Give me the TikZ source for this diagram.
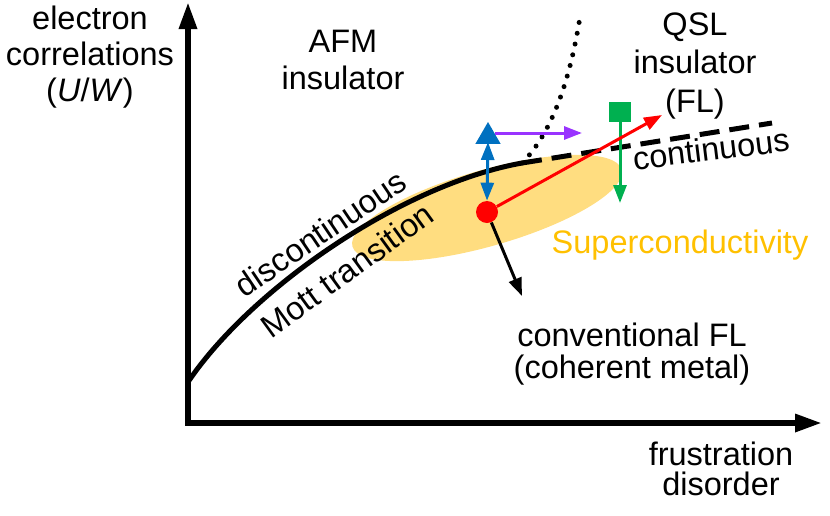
\documentclass[tikz,border=0pt]{standalone}
\usepackage{fontspec}
\setmainfont{Liberation Sans}
\usepackage{tikz}
\usetikzlibrary{arrows.meta, positioning, shapes.geometric}

\definecolor{redc}{HTML}{FF0000}
\definecolor{bluec}{HTML}{0070C0}
\definecolor{purplec}{HTML}{9933FF}
\definecolor{greenc}{HTML}{00B050}
\definecolor{scfill}{HTML}{FFDD80}
\definecolor{sctext}{HTML}{FFC000}

\begin{document}
\begin{tikzpicture}[
    x=0.02cm, y=-0.02cm,
    lbl/.style={align=center, inner sep=0pt, font=\fontsize{18.5}{22}\selectfont},
    axis/.style={line width=0.12cm, line join=miter, {Triangle[length=5.4mm, width=3.4mm]}-{Triangle[length=5.4mm, width=3.4mm]}},
    arrow/.style={line width=0.06cm, -{Triangle[length=3.6mm, width=2.6mm]}},
    boundary/.style={line width=0.1cm}
]
    \useasboundingbox (0,0) rectangle (830,515);

    % Superconducting region
    \node[ellipse, fill=scfill, rotate=16, minimum width=5.6cm, minimum height=1.52cm, inner sep=0pt] (sc) at (487,208) {};

    % Axes
    \coordinate (origin) at (188,423);
    \coordinate (ytip) at (188,2);
    \coordinate (xtip) at (822,423);
    \draw[axis] (ytip) -- (origin) -- (xtip);

    % Mott boundary
    \coordinate (c0) at (188,382);
    \coordinate (c1) at (522,163);
    \coordinate (c2) at (772,123);
    \coordinate (d1) at (580,17);
    \draw[boundary] (c0) .. controls (250,290) and (400,185) .. (c1);
    \draw[boundary, dash pattern=on 4mm off 2mm] (c1) -- (c2);
    \draw[boundary, line cap=round, dash pattern=on 0pt off 2.2mm] (c1) .. controls (552,133) and (570,80) .. (d1);

    % Labels
    \node[lbl, font=\fontsize{18.5}{20.7}\selectfont] (ylab) at (90,57) {electron\\correlations\\(\textit{U}/\textit{W})};
    \node[lbl, font=\fontsize{18.5}{21}\selectfont] (afm) at (343,60) {AFM\\insulator};
    \node[lbl, font=\fontsize{18.5}{22}\selectfont] (qsl) at (695,66) {QSL\\insulator\\(FL)};
    \node[lbl, font=\fontsize{18.5}{18.2}\selectfont] (fl) at (632,354) {conventional FL\\(coherent metal)};
    \node[lbl, font=\fontsize{18.5}{17}\selectfont] (xlab) at (721,469) {frustration\\disorder};
    \node[lbl, anchor=base, text=sctext] (sclab) at (680,253) {Superconductivity};
    \node[lbl, rotate=7] (cont) at (711,149) {continuous};
    \node[lbl, rotate=34] (disc) at (320,233) {discontinuous};
    \node[lbl, rotate=36] (mott) at (347,270) {Mott transition};

    % Markers
    \node[circle, fill=redc, minimum size=4.4mm, inner sep=0pt] (dot) at (487,212) {};
    \node[regular polygon, regular polygon sides=3, fill=bluec, minimum size=5.8mm, inner sep=0pt] (tri) at (488,136.5) {};
    \node[rectangle, fill=greenc, minimum width=4.4mm, minimum height=4mm, inner sep=0pt] (sq) at (620,112) {};

    % Arrows
    \coordinate (rtip) at (662,115);
    \coordinate (ktip) at (522,296);
    \coordinate (btop) at (488,142);
    \coordinate (pl) at (495,133);
    \coordinate (pr) at (582,133);
    \coordinate (gtip) at (620,203);
    \draw[arrow, purplec] (pl) -- (pr);
    \draw[arrow, greenc] (sq.south) -- (gtip);
    \draw[arrow, bluec, {Triangle[length=3.6mm, width=2.6mm]}-{Triangle[length=3.6mm, width=2.6mm]}] (btop) -- (dot.north);
    \draw[arrow, redc] (dot) -- (rtip);
    \draw[arrow, black] (dot) -- (ktip);
\end{tikzpicture}
\end{document}
